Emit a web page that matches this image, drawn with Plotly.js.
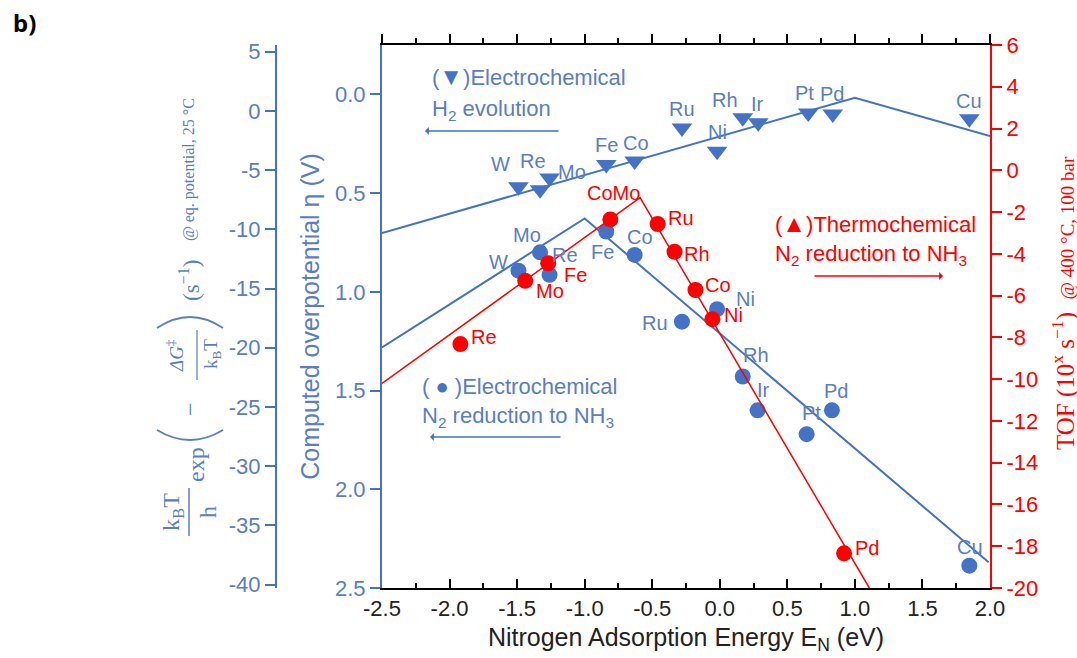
<!DOCTYPE html>
<html>
<head>
<meta charset="utf-8">
<script src="https://cdn.plot.ly/plotly-3.0.1.min.js"></script>
<style>html,body{margin:0;padding:0;background:#fff}#chart{width:1077px;height:658px}</style>
</head>
<body>
<div id="chart"></div>
<script>
// ---------- data ----------
// Electrochemical H2 evolution (down triangles), overpotential axis
const herMetals = ['W','Re','Mo','Fe','Co','Ru','Ni','Rh','Ir','Pt','Pd','Cu'];
const herEN     = [-1.49,-1.33,-1.26,-0.84,-0.63,-0.28,-0.02,0.17,0.285,0.655,0.836,1.847];
const herEta    = [0.468,0.483,0.423,0.355,0.338,0.170,0.288,0.119,0.144,0.094,0.099,0.124];
const herLineEN  = [-2.5, 1.0, 2.0];
const herLineEta = [0.702, 0.017, 0.211];

// Electrochemical N2 reduction (blue circles), overpotential axis
const n2eMetals = ['W','Mo','Re','Fe','Co','Ru','Ni','Rh','Ir','Pt','Pd','Cu'];
const n2eEN     = [-1.49,-1.33,-1.26,-0.84,-0.63,-0.28,-0.02,0.17,0.28,0.643,0.83,1.847];
const n2eEta    = [0.893,0.800,0.914,0.695,0.813,1.151,1.088,1.429,1.600,1.721,1.600,2.387];
const n2eLineEN  = [-2.5, -1.0, 1.99];
const n2eLineEta = [1.282, 0.628, 2.370];

// Thermochemical N2 reduction (red circles), TOF axis
const thMetals = ['Re','Mo','Fe','CoMo','Ru','Rh','Co','Ni','Pd'];
const thEN     = [-1.92,-1.44,-1.27,-0.81,-0.46,-0.335,-0.18,-0.055,0.92];
const thTOF    = [-8.32,-5.29,-4.45,-2.35,-2.57,-3.90,-5.73,-7.13,-18.34];
const thLineEN  = [-2.5, -0.59, 1.107];
const thLineTOF = [-10.2, -1.31, -20];

// tick labels
const xTicks   = [-2.5,-2.0,-1.5,-1.0,-0.5,0.0,0.5,1.0,1.5,2.0];
const xLabels  = ['-2.5','-2.0','-1.5','-1.0','-0.5','0.0','0.5','1.0','1.5','2.0'];
const etaTicks = [0,0.5,1.0,1.5,2.0,2.5];
const etaLabels= ['0.0','0.5','1.0','1.5','2.0','2.5'];
const tofTicks = [6,4,2,0,-2,-4,-6,-8,-10,-12,-14,-16,-18,-20];
const tofLabels= ['6','4','2','0','-2','-4','-6','-8','-10','-12','-14','-16','-18','-20'];
const rateTicks = [5,0,-5,-10,-15,-20,-25,-30,-35,-40];
const rateLabels= ['5','0','-5','-10','-15','-20','-25','-30','-35','-40'];

// label offsets in px from each mark (style only): [dx, dy], dy down
const herOff = [[-18,-23],[-7,-29],[22,-6],[0,-19],[1,-18],[0,-19],[0,-19],[-18,-18],[-1,-19],[-4,-20],[-1,-20],[0,-18]];
const n2eOff = [[-20,-9],[-13,-17],[15,-20],[-4,20],[5,-18],[-27,1],[28,-10],[13,-22],[6,-20],[5,-21],[4,-19],[1,-19]];
const thOff  = [[24,-7],[25,10],[27,12],[3,-26],[23,-6],[22,2],[23,-5],[21,-4],[23,-5]];

// ---------- style ----------
const BLUE = '#4472c4', BLUE_T = '#5a7ec0', RED = '#ff0000';
const SANS = 'Liberation Sans, Arial, sans-serif';
const SERIF = 'Liberation Serif, Times New Roman, serif';
const ML = 150, MR = 87, MT = 45, MB = 70, W = 1077, H = 658;
const PW = W - ML - MR, PH = H - MT - MB;
const PX = x => (x - ML) / PW;
const PY = y => (H - MB - y) / PH;

const traces = [
  {x: herLineEN, y: herLineEta, mode:'lines', line:{color:BLUE, width:2}, xaxis:'x', yaxis:'y', hoverinfo:'skip'},
  {x: n2eLineEN, y: n2eLineEta, mode:'lines', line:{color:BLUE, width:2}, xaxis:'x', yaxis:'y', hoverinfo:'skip'},
  {x: herEN, y: herEta, mode:'markers', text: herMetals, name:'H2 evolution',
   marker:{symbol:'triangle-down', size:18, color:BLUE}, xaxis:'x', yaxis:'y'},
  {x: n2eEN, y: n2eEta, mode:'markers', text: n2eMetals, name:'Electrochemical N2 reduction',
   marker:{symbol:'circle', size:16, color:BLUE}, xaxis:'x', yaxis:'y'},
  {x: thLineEN, y: thLineTOF, mode:'lines', line:{color:RED, width:1.5}, xaxis:'x', yaxis:'y2', hoverinfo:'skip'},
  {x: thEN, y: thTOF, mode:'markers', text: thMetals, name:'Thermochemical N2 reduction',
   marker:{symbol:'circle', size:16, color:RED}, xaxis:'x', yaxis:'y2'},
  {x: [], y: [], xaxis:'x', yaxis:'y3', mode:'markers', showlegend:false, hoverinfo:'skip'},
  {x: [], y: [], xaxis:'x2', yaxis:'y', mode:'markers', showlegend:false, hoverinfo:'skip'}
];

function pointLabels(names, xs, ys, offs, yref, color){
  return names.map((n, i) => ({
    xref:'x', yref, x: xs[i], y: ys[i], text: n, showarrow:false,
    xanchor:'center', yanchor:'middle', xshift: offs[i][0], yshift: -offs[i][1],
    font:{family:SANS, size:20, color}
  }));
}
function txt(text, x, y, size, color, anchor){
  return {xref:'paper', yref:'paper', x:PX(x), y:PY(y), text, showarrow:false,
    xanchor: anchor || 'left', yanchor:'middle', font:{family:SANS, size, color}};
}
function rot(text, x, y, size, color, family){
  return {xref:'paper', yref:'paper', x:PX(x), y:PY(y), text, showarrow:false, textangle:-90,
    xanchor:'center', yanchor:'middle', font:{family: family || SERIF, size, color: color || BLUE_T}};
}
function arrow(hx, hy, tx, color){
  return {xref:'paper', yref:'paper', x:PX(hx), y:PY(hy), ax: tx - hx, ay: 0, text:'',
    showarrow:true, arrowhead:1, arrowsize:1, arrowwidth:1.3, arrowcolor:color, standoff:0};
}

const annotations = [
  {xref:'paper', yref:'paper', x:PX(24), y:PY(22), text:'<b>b)</b>', showarrow:false,
   xanchor:'center', yanchor:'middle', font:{family:'Noto Sans, sans-serif', size:24, color:'#000'}},
  txt('(<span style="color:'+BLUE+';font-size:24px">▼</span>)Electrochemical', 430, 77, 22, BLUE_T),
  txt('H<sub>2</sub> evolution', 430, 110, 22, BLUE_T),
  arrow(425, 131, 560, BLUE),
  txt('(<span style="font-size:24px">▲</span>)Thermochemical', 773, 223, 22, RED),
  txt('N<sub>2</sub> reduction to NH<sub>3</sub>', 773, 255, 22, RED),
  arrow(943, 276, 813, RED),
  txt('( <span style="color:'+BLUE+'">●</span> )Electrochemical', 420, 387, 22, BLUE_T),
  txt('N<sub>2</sub> reduction to NH<sub>3</sub>', 420, 417, 22, BLUE_T),
  arrow(430, 437, 562, BLUE),
  // right axis title
  rot('TOF (10<sup>x</sup> s<sup>−1</sup>)  <span style="font-size:19px">@ 400 °C, 100 bar</span>', 1063, 303, 25, RED),
  // far-left axis formula
  rot('k<sub>B</sub>T', 173, 512, 24),
  rot('h', 208, 512, 24),
  rot('exp', 196, 465, 24),
  rot('−', 190, 409, 24),
  rot('<i>ΔG</i><sup>‡</sup>', 175, 356, 19),
  rot('k<sub>B</sub>T', 212, 354, 19),
  rot('(s<sup>−1</sup>)', 189, 281, 23),
  rot('@ eq. potential, 25 °C', 189, 170, 16)
].concat(
  pointLabels(herMetals, herEN, herEta, herOff, 'y', BLUE_T),
  pointLabels(n2eMetals, n2eEN, n2eEta, n2eOff, 'y', BLUE_T),
  pointLabels(thMetals, thEN, thTOF, thOff, 'y2', RED)
);

const shapes = [
  {type:'line', xref:'paper', yref:'paper', x0:PX(189), x1:PX(189), y0:PY(488), y1:PY(536), line:{color:BLUE_T, width:1.5}},
  {type:'line', xref:'paper', yref:'paper', x0:PX(197), x1:PX(197), y0:PY(330), y1:PY(380), line:{color:BLUE_T, width:1.2}},
  {type:'path', xref:'paper', yref:'paper',
   path:'M '+PX(157)+','+PY(430)+' Q '+PX(190)+','+PY(450)+' '+PX(223)+','+PY(430), line:{color:BLUE_T, width:1.8}},
  {type:'path', xref:'paper', yref:'paper',
   path:'M '+PX(157)+','+PY(328)+' Q '+PX(190)+','+PY(306)+' '+PX(223)+','+PY(328), line:{color:BLUE_T, width:1.8}}
];

const xDom = [(382 - ML) / PW, 1];

const layout = {
  width: W, height: H,
  margin: {l: ML, r: MR, t: MT, b: MB, pad: 0},
  paper_bgcolor: '#fff', plot_bgcolor: '#fff',
  font: {family: SANS, size: 22, color: '#222'},
  showlegend: false,
  xaxis: {
    domain: xDom, range: [-2.5, 2.0], anchor: 'y',
    tickvals: xTicks, ticktext: xLabels,
    ticks: 'inside', ticklen: 9, tickwidth: 2, tickcolor: '#000',
    minor: {dtick: 0.25, tick0: 0, ticks: 'inside', ticklen: 5, tickwidth: 2, tickcolor: '#000', showgrid: false},
    showline: true, linecolor: '#000', linewidth: 2,
    showgrid: false, zeroline: false,
    tickfont: {size: 22, color: '#222'},
    title: {text: 'Nitrogen Adsorption Energy E<sub>N</sub> (eV)', font: {size: 25, color: '#222'}, standoff: 8}
  },
  xaxis2: {
    domain: xDom, range: [-2.5, 2.0], overlaying: 'x', side: 'top', anchor: 'y',
    tickvals: xTicks, showticklabels: false,
    ticks: 'outside', ticklen: 9, tickwidth: 2, tickcolor: '#000',
    minor: {dtick: 0.25, tick0: 0, ticks: 'outside', ticklen: 5, tickwidth: 2, tickcolor: '#000', showgrid: false},
    showline: true, linecolor: '#000', linewidth: 2,
    showgrid: false, zeroline: false
  },
  yaxis: {
    domain: [0, 1], range: [2.5, -0.25], anchor: 'x', side: 'left',
    tickvals: etaTicks, ticktext: etaLabels,
    ticks: 'outside', ticklen: 10, tickwidth: 2, tickcolor: BLUE,
    showline: true, linecolor: BLUE, linewidth: 2,
    showgrid: false, zeroline: false,
    tickfont: {size: 22, color: BLUE_T},
    title: {text: 'Computed overpotential η (V)', font: {size: 25, color: BLUE_T}, standoff: 8}
  },
  yaxis2: {
    domain: [0, 1], range: [-20, 6], overlaying: 'y', side: 'right', anchor: 'x',
    tickvals: tofTicks, ticktext: tofLabels,
    ticks: 'outside', ticklen: 10, tickwidth: 2, tickcolor: RED,
    showline: true, linecolor: RED, linewidth: 2,
    showgrid: false, zeroline: false,
    tickfont: {size: 22, color: RED}
  },
  yaxis3: {
    domain: [0, 1], range: [-40.28, 5.56], overlaying: 'y', anchor: 'free', side: 'left',
    position: (276 - ML) / PW,
    tickvals: rateTicks, ticktext: rateLabels,
    ticks: 'outside', ticklen: 10, tickwidth: 2, tickcolor: BLUE,
    showline: true, linecolor: BLUE, linewidth: 2,
    showgrid: false, zeroline: false,
    tickfont: {size: 22, color: BLUE_T}
  },
  annotations: annotations,
  shapes: shapes
};

Plotly.newPlot('chart', traces, layout, {displayModeBar: false, staticPlot: true});
</script>
</body>
</html>
